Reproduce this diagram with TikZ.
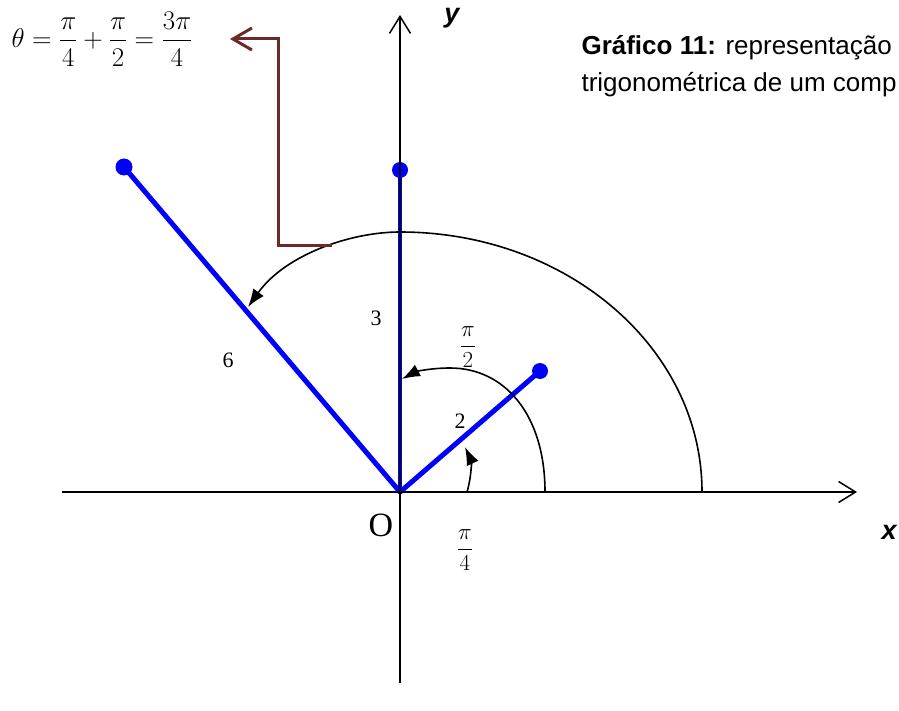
\RequirePackage{fix-cm}
\documentclass[tikz,border=0pt]{standalone}
\usepackage{amsmath}
\usepackage{fontspec}
\setmainfont{Liberation Serif}
\newfontfamily\arial{Liberation Sans}
\usetikzlibrary{arrows.meta}
\definecolor{arrowbrown}{RGB}{110,42,42}

\begin{document}
\begin{tikzpicture}[x=1pt,y=-1pt,
vec/.style={blue,line width=5pt,line cap=round},
axis/.style={black,line width=1.5pt,-{Straight Barb[length=17pt,width=21pt]}},
angarc/.style={black,line width=1.6pt,-{Latex[length=18pt,width=13pt]}},
pointer/.style={arrowbrown,line width=3pt,-{Straight Barb[length=19pt,width=22pt]}},
lbl/.style={font=\fontsize{22}{26}\selectfont},
anglbl/.style={font=\fontsize{23}{27}\selectfont},
axlbl/.style={font=\arial\bfseries\itshape\fontsize{27}{30}\selectfont},
caption/.style={anchor=base west,font=\arial\fontsize{26}{30}\selectfont}]

\useasboundingbox (0,0) rectangle (899,711);

\coordinate (orig) at (400,492);
\coordinate (z2) at (540,371);
\coordinate (z3) at (400,170);
\coordinate (z6) at (124,167);

% vectors
\draw[vec] (orig) -- (z2);
\draw[vec,line width=4pt] (orig) -- (z3);
\draw[vec] (orig) -- (z6);
\fill[blue] (z2) circle (8pt) (z3) circle (8pt) (z6) circle (8.5pt);

% axes
\draw[axis] (62,492) -- (857,492);
\draw[axis] (400,683) -- (400,15);

% angles
\draw[angarc] (467,492) .. controls (472,475) and (471,460) .. (465,447);
\draw[angarc] (545,492) .. controls (545,415) and (505,368) .. (450,368) .. controls (430,368) and (415,372) .. (402,379);
\draw[angarc] (702,492) .. controls (702,348) and (567,232) .. (400,232) .. controls (350,232) and (285,255) .. (248,307);

\node[font=\fontsize{27}{32}\selectfont] (theta) at (102,39) {$\theta=\dfrac{\pi}{4}+\dfrac{\pi}{2}=\dfrac{3\pi}{4}$};
\coordinate (link) at (332,246);
\draw[pointer,shorten >=34pt] (link) -- (278,246) |- (theta.east);

\node[lbl] (m2) at (460,421) {2};
\node[lbl] (m3) at (376,318) {3};
\node[lbl] (m6) at (228,360) {6};
\node[font=\fontsize{34}{40}\selectfont] (o) at (381,525) {O};
\node[anglbl] (a2) at (468,347) {$\dfrac{\pi}{2}$};
\node[anglbl] (a4) at (465,550) {$\dfrac{\pi}{4}$};

\node[axlbl] (xl) at (889,532) {x};
\node[axlbl] (yl) at (452,18) {y};

\node[caption] (cap1) at (578,55) {\textbf{Gráfico 11:} representação};
\node[caption] (cap2) at (578,92) {trigonométrica de um comp};
\end{tikzpicture}
\end{document}
